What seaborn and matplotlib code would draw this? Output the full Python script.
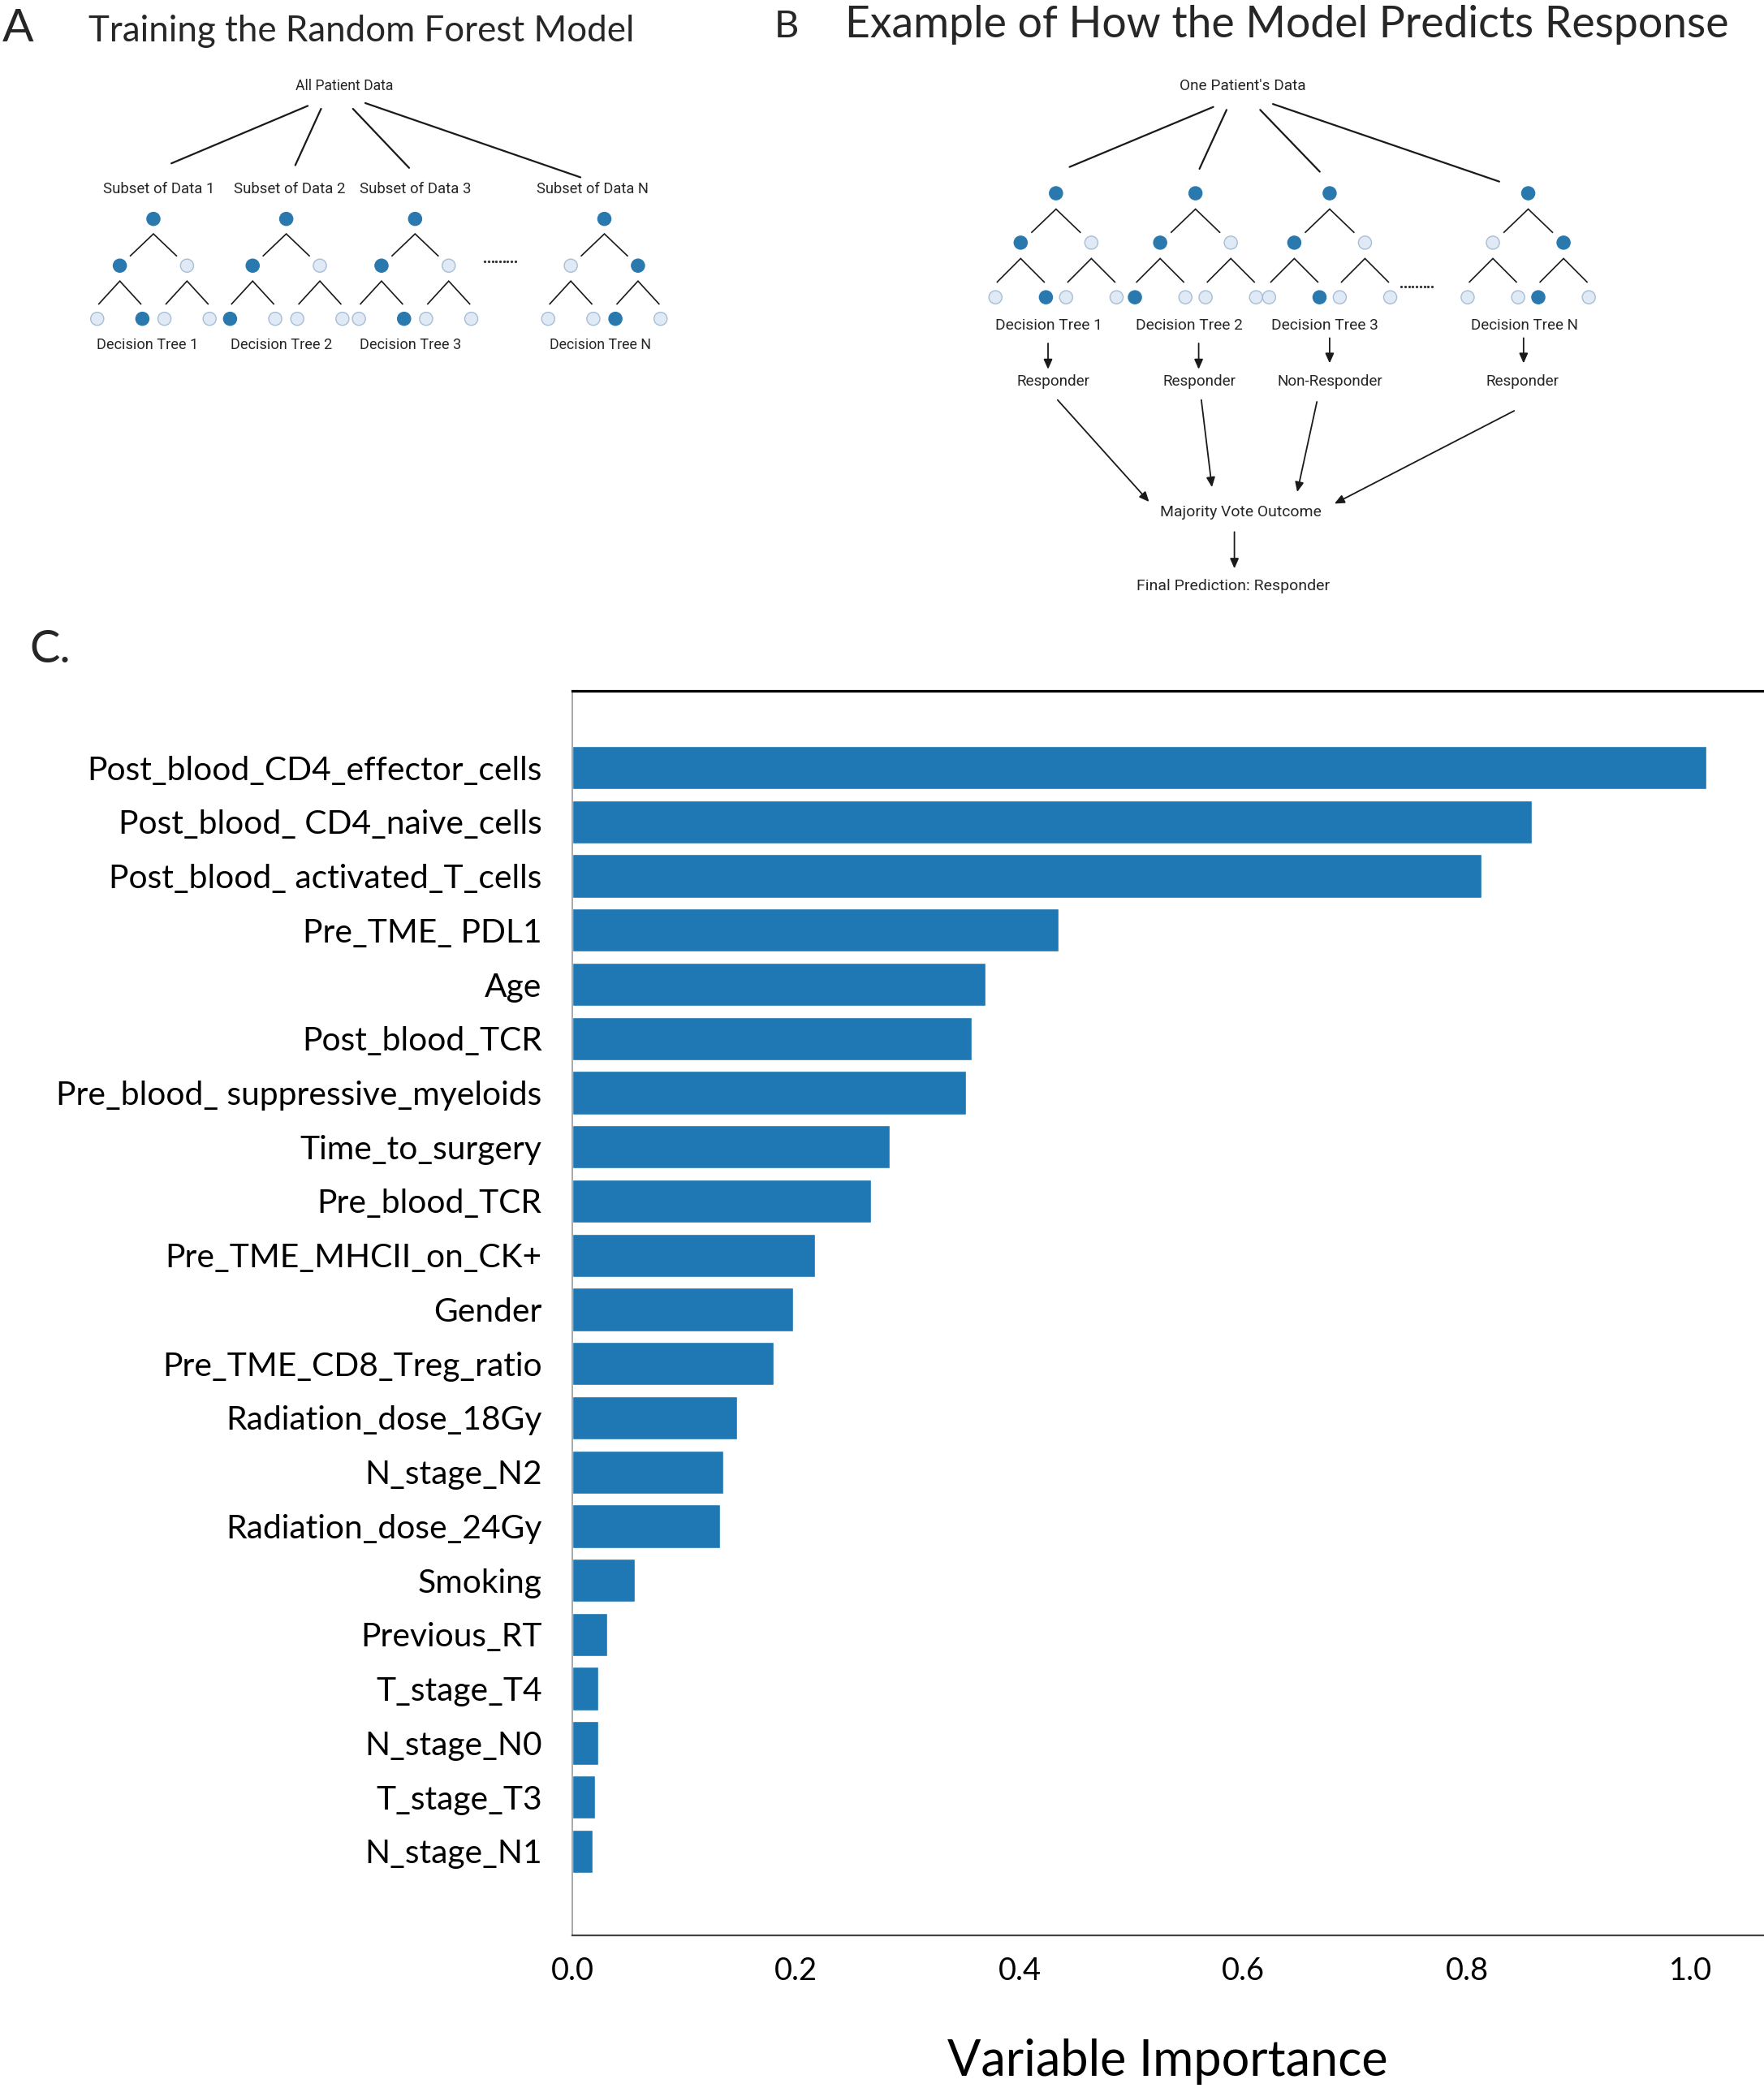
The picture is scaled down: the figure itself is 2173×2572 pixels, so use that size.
import matplotlib
matplotlib.use("Agg")
import matplotlib.pyplot as plt
import seaborn as sns
import numpy as np
import pandas as pd

# ---------------- data ----------------
features = [
    "Post_blood_CD4_effector_cells",
    "Post_blood_ CD4_naive_cells",
    "Post_blood_ activated_T_cells",
    "Pre_TME_ PDL1",
    "Age",
    "Post_blood_TCR",
    "Pre_blood_ suppressive_myeloids",
    "Time_to_surgery",
    "Pre_blood_TCR",
    "Pre_TME_MHCII_on_CK+",
    "Gender",
    "Pre_TME_CD8_Treg_ratio",
    "Radiation_dose_18Gy",
    "N_stage_N2",
    "Radiation_dose_24Gy",
    "Smoking",
    "Previous_RT",
    "T_stage_T4",
    "N_stage_N0",
    "T_stage_T3",
    "N_stage_N1",
]
importance = [1.014, 0.858, 0.813, 0.435, 0.369, 0.357, 0.352, 0.284, 0.267,
              0.217, 0.197, 0.180, 0.147, 0.135, 0.132, 0.056, 0.031, 0.023,
              0.023, 0.020, 0.018]
xticks = [0.0, 0.2, 0.4, 0.6, 0.8, 1.0]
xtick_labels = ["0.0", "0.2", "0.4", "0.6", "0.8", "1.0"]

# diagram content
tree_labels = ["Decision Tree 1", "Decision Tree 2", "Decision Tree 3", "Decision Tree N"]
subset_labels = ["Subset of Data 1", "Subset of Data 2", "Subset of Data 3", "Subset of Data N"]
votes = ["Responder", "Responder", "Non-Responder", "Responder"]
# node states per tree: root, level 2, leaves  (D = dark, L = light)
tree_patterns = [("D", "DL", "LDLL"), ("D", "DL", "DLLL"), ("D", "DL", "LDLL"), ("D", "LD", "LLDL")]

# ---------------- figure ----------------
sns.set_theme(style="white")
plt.rcParams["font.family"] = ["Lato", "DejaVu Sans"]

W, H = 2173, 2572
fig = plt.figure(figsize=(W / 100, H / 100), dpi=100)
U = W / 1328.0  # pixels per layout unit

ax0 = fig.add_axes([0, 0, 1, 1], zorder=0)
ax0.set_xlim(0, 1328)
ax0.set_ylim(1572, 0)
ax0.axis("off")
renderer = fig.canvas.get_renderer()

DARK = "#2a79ae"
LIGHT = "#dfeaf6"
LEDGE = "#a9bdd3"
LINE = "#1a1a1a"


def put(s, x, y, width, family="Roboto", ha="center", **kw):
    t = ax0.text(x, y, s, ha=ha, va="center", fontsize=20, family=family, **kw)
    w = t.get_window_extent(renderer).width
    t.set_fontsize(20 * width * U / w)
    return t


def caret(px, py, dx, dy, fy0, fy1, fx):
    ax0.plot([px - fx * dx, px, px + fx * dx],
             [py + fy1 * dy, py + fy0 * dy, py + fy1 * dy],
             color=LINE, lw=1.2, solid_joinstyle="miter", solid_capstyle="butt")


def draw_tree(cx, ys, dx1, dx2, pat):
    y0, y1, y2 = ys
    d1, d2 = y1 - y0, y2 - y1
    caret(cx, y0, dx1, d1, 0.32, 0.80, 0.70)
    xs1 = [cx - dx1, cx + dx1]
    for x in xs1:
        caret(x, y1, dx2, d2, 0.29, 0.73, 0.95)
    xs2 = [x + s * dx2 for x in xs1 for s in (-1, 1)]
    xs = [cx] + xs1 + xs2
    yy = [y0] + [y1] * 2 + [y2] * 4
    states = pat[0] + pat[1] + pat[2]
    fc = [DARK if s == "D" else LIGHT for s in states]
    ec = [DARK if s == "D" else LEDGE for s in states]
    ax0.scatter(xs, yy, s=135, c=fc, edgecolors=ec, linewidths=1.0, zorder=3)


def arrow(x0, y0, x1, y1):
    ax0.annotate("", xy=(x1, y1), xytext=(x0, y0),
                 arrowprops=dict(arrowstyle="-|>,head_length=0.45,head_width=0.2",
                                 color=LINE, lw=1.3, shrinkA=0, shrinkB=0,
                                 mutation_scale=16))


# ---------- Panel A ----------
put("A", 1.7, 22, 23.5, family="Lato", ha="left")
put("Training the Random Forest Model", 66.7, 23.5, 410.6, family="Lato", ha="left")
put("All Patient Data", 259.5, 65, 73.7)
for (xa, ya, xb, yb) in [(231.7, 79.7, 129, 123), (241.7, 81.9, 222.3, 124.4),
                         (265.7, 81.9, 308, 126.4), (275, 77.6, 437, 133.5)]:
    ax0.plot([xa, xb], [ya, yb], color=LINE, lw=1.6)
A_roots = [115.5, 215.5, 312.5, 455]
A_sub_x = [119.3, 218, 313, 446]
A_lab_x = [111, 212, 309, 452]
for i in range(4):
    put(subset_labels[i], A_sub_x[i], 142.3, 84)
    draw_tree(A_roots[i], (164.8, 200, 240), 25.3, 17, tree_patterns[i])
    put(tree_labels[i], A_lab_x[i], 259.5, 76)
ax0.plot(np.linspace(365, 388, 9), [196.5] * 9, ls="none", marker="o", ms=1.3, color="#333")

# ---------- Panel B ----------
put("B", 583, 20, 18.5, family="Lato", ha="left")
put("Example of How the Model Predicts Response", 636, 18.5, 667, family="Lato", ha="left")
put("One Patient's Data", 935.5, 64.9, 95)
for (xa, ya, xb, yb) in [(913.4, 80.5, 805.2, 125.7), (923.4, 82.7, 903, 127.1),
                         (948.7, 82.7, 993.6, 129.3), (958.3, 78.3, 1128.7, 136.7)]:
    ax0.plot([xa, xb], [ya, yb], color=LINE, lw=1.6)
B_roots = [795, 900, 1001, 1150.5]
B_lab_x = [789.8, 895.4, 997.6, 1147.5]
B_arrow_x = [789, 902.4, 1001, 1147]
B_arrow_y = [(258.5, 278), (258.5, 278), (254.5, 273.5), (254.5, 273.5)]
B_vote_x = [792.7, 903.2, 1001.5, 1146]
for i in range(4):
    draw_tree(B_roots[i], (145.5, 182.7, 223.8), 26.6, 19, tree_patterns[i])
    put(tree_labels[i], B_lab_x[i], 245.3, 80.5)
    arrow(B_arrow_x[i], B_arrow_y[i][0], B_arrow_x[i], B_arrow_y[i][1])
    put(votes[i], B_vote_x[i], 287.5, 79.4 if votes[i] == "Non-Responder" else 55)
ax0.plot(np.linspace(1055, 1078, 9), [216] * 9, ls="none", marker="o", ms=1.3, color="#333")
for (xa, ya, xb, yb) in [(796.2, 301.1, 865.1, 377.8), (904.4, 301.1, 912.4, 366.8),
                         (991.4, 302.5, 976.6, 370.4), (1139.9, 309.3, 1004.6, 379.2)]:
    arrow(xa, ya, xb, yb)
put("Majority Vote Outcome", 934, 385.5, 121)
arrow(929.3, 400.5, 929.3, 428)
put("Final Prediction: Responder", 928.5, 441, 144.3)

# ---------- Panel C ----------
put("C.", 22, 489, 31, family="Lato", ha="left")

left = 431 / 1328
right = 1327.5 / 1328
top = 1 - 520 / 1572
bottom = 1 - 1457 / 1572
ax = fig.add_axes([left, bottom, right - left, top - bottom], zorder=2)
ax.patch.set_alpha(0)

df = pd.DataFrame({"feature": features, "importance": importance})
sns.barplot(data=df, x="importance", y="feature", orient="h", color="#1f77b4",
            saturation=1, width=0.8, ax=ax)
ax.set_xlim(0.0025, 1.065)
ax.set_ylim(21.55, -1.42)
ax.set_xticks(xticks)
ax.set_xticklabels(xtick_labels)
ax.set_ylabel("")
ax.set_xlabel("Variable Importance")

# font sizes fitted to the reference widths
def fitsize(s, width_units, family="Lato"):
    t = ax0.text(0, 0, s, fontsize=20, family=family)
    w = t.get_window_extent(renderer).width
    t.remove()
    return 20 * width_units * U / w

ysz = fitsize(features[0], 342)
xsz = fitsize("0.0", 32.5)
lsz = fitsize("Variable Importance", 332)

ax.tick_params(axis="y", length=0, pad=27, labelsize=ysz, labelcolor="black")
ax.tick_params(axis="x", length=0, pad=19, labelsize=xsz, labelcolor="black")
ax.xaxis.label.set_fontsize(lsz)
ax.xaxis.label.set_color("black")
ax.xaxis.label.set_va("center")
ax.xaxis.set_label_coords(0.5, -(1552 - 1457) / (1457 - 520))

for side in ["top", "left", "bottom", "right"]:
    ax.spines[side].set_visible(True)
ax.spines["right"].set_visible(False)
ax.spines["top"].set_color("black")
ax.spines["top"].set_linewidth(2.3)
ax.spines["left"].set_color("#9a9a9a")
ax.spines["left"].set_linewidth(1.2)
ax.spines["bottom"].set_color("#444444")
ax.spines["bottom"].set_linewidth(1.6)
ax.grid(False)

fig.savefig("out.png", dpi=100, facecolor="white")
